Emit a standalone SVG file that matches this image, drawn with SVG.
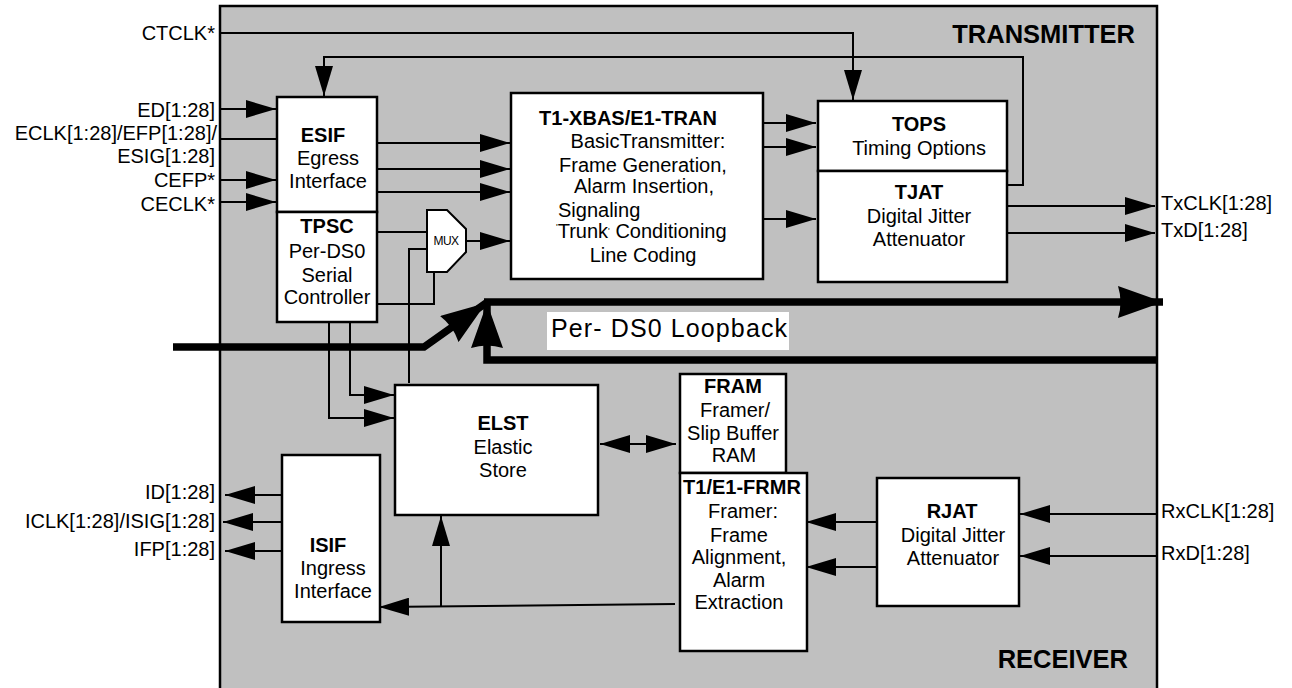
<svg xmlns="http://www.w3.org/2000/svg" width="1292" height="688" viewBox="0 0 1292 688">
<style>
text{font-family:"Liberation Sans",Arial,sans-serif;font-size:20px;fill:#000}
.b{font-weight:bold}
.c{text-anchor:middle}
.e{text-anchor:end}
.big{font-size:25.5px;font-weight:bold}
.box{fill:#fff;stroke:#000;stroke-width:2.5}
.w{fill:none;stroke:#000;stroke-width:2}
.a{marker-end:url(#ah)}
.thick{fill:none;stroke:#000;stroke-width:7.5;marker-end:url(#bh)}
</style>
<defs>
<marker id="ah" markerUnits="userSpaceOnUse" markerWidth="30" markerHeight="18" refX="30" refY="9" orient="auto-start-reverse" viewBox="0 0 30 18"><path d="M0,0 L30,9 L0,18 z" fill="#000"/></marker>
<marker id="bh" markerUnits="userSpaceOnUse" markerWidth="45" markerHeight="32" refX="45" refY="16" orient="auto" viewBox="0 0 45 32"><path d="M0,0 L45,16 L0,32 Q5,16 0,0 z" fill="#000"/></marker>
</defs>
<rect x="220" y="6" width="937" height="690" fill="#C0C0C0" stroke="#000" stroke-width="2.5"/>
<text class="big" x="1135" y="43" text-anchor="end">TRANSMITTER</text>
<text class="big" x="1128" y="668" text-anchor="end">RECEIVER</text>

<g id="labels">
<text class="e" x="215" y="40">CTCLK*</text>
<text class="e" x="215" y="117">ED[1:28]</text>
<text class="e" x="217" y="140">ECLK[1:28]/EFP[1:28]/</text>
<text class="e" x="215" y="163">ESIG[1:28]</text>
<text class="e" x="215" y="187">CEFP*</text>
<text class="e" x="215" y="211">CECLK*</text>
<text class="e" x="215" y="499">ID[1:28]</text>
<text class="e" x="215" y="528">ICLK[1:28]/ISIG[1:28]</text>
<text class="e" x="215" y="556">IFP[1:28]</text>
<text x="1161" y="210">TxCLK[1:28]</text>
<text x="1161" y="237">TxD[1:28]</text>
<text x="1161" y="518">RxCLK[1:28]</text>
<text x="1161" y="560">RxD[1:28]</text>
</g>

<g id="connectors">
<path class="w a" d="M220,33 L853,33 L853,100"/>
<path class="w a" d="M1007,185 L1023,185 L1023,57 L324,57 L324,96"/>
<path class="w a" d="M220,109 L276,109"/>
<path class="w" d="M220,139 L277,139"/>
<path class="w a" d="M220,180 L276,180"/>
<path class="w a" d="M220,202 L276,202"/>
<path class="w a" d="M377,143 L510,143"/>
<path class="w a" d="M377,169 L510,169"/>
<path class="w a" d="M377,192 L510,192"/>
<path class="w" d="M377,232 L427,232"/>
<path class="w" d="M427,249 L409,249 L409,383"/>
<path class="w" d="M434,272 L434,304 L377,304"/>
<path class="w a" d="M466,241 L510,241"/>
<path class="w a" d="M760,123 L816,123"/>
<path class="w a" d="M760,147 L816,147"/>
<path class="w a" d="M763,219 L816,219"/>
<path class="w a" d="M1005,206 L1155,206"/>
<path class="w a" d="M1005,233 L1155,233"/>
<path class="w a" d="M350,322 L350,395 L394,395"/>
<path class="w a" d="M329,322 L329,418 L394,418"/>
<path class="w a" style="marker-start:url(#ah)" d="M600,444 L676,444"/>
<path class="w a" d="M675,604 L379,607"/>
<path class="w a" d="M441,606 L441,516"/>
<path class="w a" d="M877,522 L806,522"/>
<path class="w a" d="M877,567 L806,567"/>
<path class="w a" d="M1157,514 L1020,514"/>
<path class="w a" d="M1157,556 L1020,556"/>
<path class="w a" d="M282,495 L225,495"/>
<path class="w a" d="M282,522 L223,522"/>
<path class="w a" d="M282,551 L225,551"/>
<path class="thick" d="M173,347 L424,347 L486,303"/>
<path class="thick" d="M1157,360 L487,360 L487,303"/>
<path class="thick" d="M484,302 L1163,302"/>
</g>

<g id="loopback-label">
<rect x="547" y="312" width="242" height="38" fill="#fff"/>
<text x="551" y="337" style="font-size:25px" textLength="236" lengthAdjust="spacing">Per- DS0 Loopback</text>
</g>

<g id="esif">
<rect class="box" x="277" y="97" width="100" height="115"/>
<text class="b c" x="323" y="142">ESIF</text>
<text class="c" x="328" y="165">Egress</text>
<text class="c" x="328" y="188">Interface</text>
</g>
<g id="tpsc">
<rect class="box" x="277" y="212" width="100" height="110"/>
<text class="b c" x="327" y="233">TPSC</text>
<text class="c" x="327" y="258">Per-DS0</text>
<text class="c" x="327" y="282">Serial</text>
<text class="c" x="327" y="304">Controller</text>
</g>
<g id="mux">
<polygon points="427,210 447,210 466,229 466,252 447,272 427,272" fill="#fff" stroke="#000" stroke-width="2"/>
<text class="c" x="446" y="245" style="font-size:12px;letter-spacing:-0.5px">MUX</text>
</g>
<g id="xbas">
<rect class="box" x="511" y="93" width="252" height="186"/>
<text class="b c" x="628" y="125">T1-XBAS/E1-TRAN</text>
<text class="c" x="648" y="148">BasicTransmitter:</text>
<text class="c" x="643" y="172">Frame Generation,</text>
<text class="c" x="644" y="193">Alarm Insertion,</text>
<text x="558" y="217">Signaling</text>
<text x="556" y="238"><tspan style="font-size:9px" dy="-8">'</tspan><tspan dy="8">Trunk</tspan><tspan style="font-size:9px" dy="-4">'</tspan><tspan dy="4"> Conditioning</tspan></text>
<text class="c" x="643" y="262">Line Coding</text>
</g>
<g id="tops">
<rect class="box" x="818" y="101" width="189" height="70"/>
<text class="b c" x="919" y="131">TOPS</text>
<text class="c" x="919" y="155">Timing Options</text>
</g>
<g id="tjat">
<rect class="box" x="818" y="171" width="189" height="111"/>
<text class="b c" x="919" y="199">TJAT</text>
<text class="c" x="919" y="223">Digital Jitter</text>
<text class="c" x="919" y="246">Attenuator</text>
</g>
<g id="elst">
<rect class="box" x="395" y="385" width="203" height="130"/>
<text class="b c" x="503" y="430">ELST</text>
<text class="c" x="503" y="454">Elastic</text>
<text class="c" x="503" y="477">Store</text>
</g>
<g id="isif">
<rect class="box" x="282" y="455" width="98" height="167"/>
<text class="b c" x="328" y="552">ISIF</text>
<text class="c" x="333" y="575">Ingress</text>
<text class="c" x="333" y="598">Interface</text>
</g>
<g id="fram">
<rect class="box" x="680" y="374" width="106" height="99"/>
<text class="b c" x="733" y="393">FRAM</text>
<text class="c" x="735" y="417">Framer/</text>
<text class="c" x="733" y="440">Slip Buffer</text>
<text class="c" x="734" y="462">RAM</text>
</g>
<g id="frmr">
<rect class="box" x="680" y="473" width="127" height="178"/>
<text class="b c" x="742" y="494">T1/E1-FRMR</text>
<text class="c" x="743" y="518">Framer:</text>
<text class="c" x="739" y="542">Frame</text>
<text class="c" x="739" y="564">Alignment,</text>
<text class="c" x="739" y="587">Alarm</text>
<text class="c" x="739" y="609">Extraction</text>
</g>
<g id="rjat">
<rect class="box" x="877" y="478" width="142" height="128"/>
<text class="b c" x="952" y="518">RJAT</text>
<text class="c" x="953" y="542">Digital Jitter</text>
<text class="c" x="953" y="565">Attenuator</text>
</g>
</svg>
